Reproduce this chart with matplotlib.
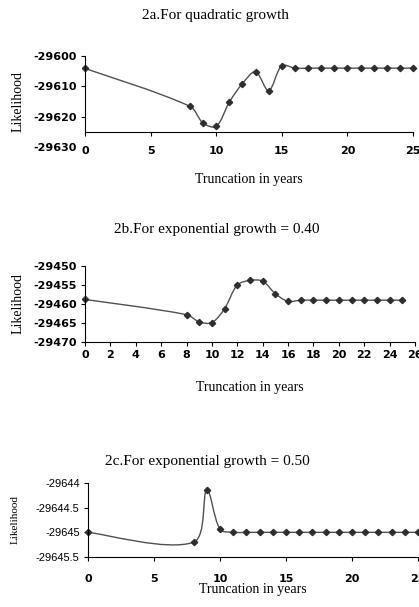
import numpy as np
import matplotlib
matplotlib.use("Agg")
from matplotlib import pyplot as plt
from matplotlib.path import Path
from matplotlib.patches import PathPatch

plt.rcParams['axes.unicode_minus'] = False

# 2a quadratic growth
xa = [0, 8, 9, 10, 11, 12, 13, 14, 15, 16, 17, 18, 19, 20, 21, 22, 23, 24, 25]
ya = [-29604.1, -29616.6, -29622.1, -29623.2, -29615.2, -29609.1, -29605.2, -29611.4, -29603.2,
      -29604.0, -29604.0, -29604.0, -29604.0, -29604.0, -29604.0, -29604.0, -29604.0, -29604.0, -29604.0]
yticks_a = [-29630, -29620, -29610, -29600]
xticks_a = [0, 5, 10, 15, 20, 25]

# 2b exponential growth 0.40
xb = [0, 8, 9, 10, 11, 12, 13, 14, 15, 16, 17, 18, 19, 20, 21, 22, 23, 24, 25]
yb = [-29458.8, -29462.8, -29464.7, -29464.9, -29461.2, -29455.0, -29453.8, -29454.0, -29457.3,
      -29459.3, -29459.0, -29459.0, -29459.0, -29459.0, -29459.0, -29459.0, -29459.0, -29459.0, -29459.0]
yticks_b = [-29470, -29465, -29460, -29455, -29450]
xticks_b = [0, 2, 4, 6, 8, 10, 12, 14, 16, 18, 20, 22, 24, 26]

# 2c exponential growth 0.50
xc = [0, 8, 9, 10, 11, 12, 13, 14, 15, 16, 17, 18, 19, 20, 21, 22, 23, 24, 25]
yc = [-29645.0, -29645.2, -29644.14, -29644.94, -29645.0, -29645.0, -29645.0, -29645.0, -29645.0,
      -29645.0, -29645.0, -29645.0, -29645.0, -29645.0, -29645.0, -29645.0, -29645.0, -29645.0, -29645.0]
yticks_c = [-29645.5, -29645, -29644.5, -29644]
ytlabels_c = ["-29645.5", "-29645", "-29644.5", "-29644"]
xticks_c = [0, 5, 10, 15, 20, 25]

W, H = 419, 607
LINE = '#505050'
MARK = '#2e2e2e'
serif = 'Liberation Serif'


def smooth_path(ax, x, y):
    # excel-like smoothed line: bezier with chord-weighted tangents (in pixel space)
    bb = ax.get_position()
    x0, x1 = ax.get_xlim()
    y0, y1 = ax.get_ylim()
    sx = bb.width * W / (x1 - x0)
    sy = bb.height * H / (y1 - y0)
    p = np.column_stack([np.asarray(x, float) * sx, (np.asarray(y, float) - y0) * sy])
    n = len(p)
    d = np.hypot(*np.diff(p, axis=0).T)
    verts = [p[0]]
    codes = [Path.MOVETO]
    for i in range(n - 1):
        pm = p[i - 1] if i > 0 else p[i]
        pp = p[i + 2] if i + 2 < n else p[i + 1]
        dm = d[i - 1] if i > 0 else d[i]
        dp = d[i + 1] if i + 2 < n else d[i]
        c1 = p[i] + (p[i + 1] - pm) * d[i] / (3 * (dm + d[i]))
        c2 = p[i + 1] - (pp - p[i]) * d[i] / (3 * (d[i] + dp))
        verts += [c1, c2, p[i + 1]]
        codes += [Path.CURVE4] * 3
    v = np.array(verts)
    v[:, 0] = v[:, 0] / sx
    v[:, 1] = v[:, 1] / sy + y0
    return Path(v, codes)


def panel(rect, x, y, xlim, ylim, xticks, yticks, ylabels, axis_y, title, title_xy,
          ylab_x, xlab_y, xpad, ylab_size=10, ytick_weight='bold', ytick_family='DejaVu Sans'):
    ax = fig.add_axes(rect)
    ax.set_xlim(*xlim)
    ax.set_ylim(*ylim)
    ax.add_patch(PathPatch(smooth_path(ax, x, y), fc='none', ec=LINE, lw=1.0, clip_on=False))
    ax.plot(x, y, ls='none', marker='D', ms=3.2, color=MARK, clip_on=False)
    for s in ['top', 'right']:
        ax.spines[s].set_visible(False)
    ax.spines['bottom'].set_position(('data', axis_y))
    ax.spines['left'].set_bounds(axis_y, ylim[1])
    ax.set_xticks(xticks)
    ax.set_yticks(yticks)
    ax.set_yticklabels(ylabels)
    ax.tick_params(axis='x', direction='out', length=3, pad=xpad, labelsize=8)
    ax.tick_params(axis='y', direction='out', length=3, pad=3, labelsize=8)
    for t in ax.get_xticklabels():
        t.set_fontweight('bold')
        t.set_family('DejaVu Sans')
    for t in ax.get_yticklabels():
        t.set_fontweight(ytick_weight)
        t.set_family(ytick_family)
    for tk, v in zip(ax.yaxis.get_major_ticks(), yticks):
        if v < axis_y:
            tk.tick1line.set_visible(False)
    ax.set_ylabel('Likelihood', family=serif, fontsize=ylab_size)
    ax.yaxis.set_label_coords(ylab_x, 0.5)
    ax.yaxis.label.set_va('center')
    ax.set_xlabel('Truncation in years', family=serif, fontsize=10)
    ax.xaxis.set_label_coords(0.5, xlab_y)
    ax.xaxis.label.set_va('center')
    fig.text(title_xy[0] / W, 1 - title_xy[1] / H, title, family=serif, fontsize=11,
             ha='center', va='center')
    return ax


fig = plt.figure(figsize=(W / 100, H / 100), dpi=100)

panel([85 / W, 1 - 147 / H, 328 / W, 91 / H], xa, ya, (0, 25), (-29630, -29600),
      xticks_a, yticks_a, [str(v) for v in yticks_a], -29625,
      '2a.For quadratic growth', (215, 15), -0.204, (147 - 180) / 91, 7)

panel([85 / W, 1 - 342 / H, 330 / W, 76 / H], xb, yb, (0, 26), (-29470, -29450),
      xticks_b, yticks_b, [str(v) for v in yticks_b], -29470,
      '2b.For exponential growth = 0.40', (217, 229), -0.203, (342 - 387) / 76, 3)

panel([88 / W, 1 - 557 / H, 330 / W, 74 / H], xc, yc, (0, 25), (-29645.5, -29644),
      xticks_c, yticks_c, ytlabels_c, -29645.5,
      '2c.For exponential growth = 0.50', (207, 462), -0.221, (557 - 590) / 74, 9,
      ylab_size=8, ytick_weight='normal', ytick_family='Liberation Sans')

fig.savefig('out.png', dpi=100)
